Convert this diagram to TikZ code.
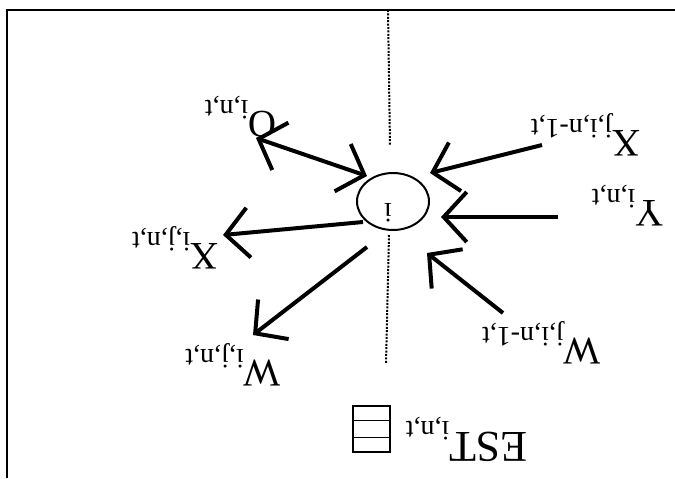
\documentclass[tikz,border=0pt]{standalone}
\usepackage{fontspec}
\setmainfont{Liberation Serif}
\usetikzlibrary{arrows.meta,shapes.geometric}
\newcommand{\lblx}[3][19.5pt]{{\fontsize{#1}{#1}\selectfont #2}\raisebox{-5.5pt}{\fontsize{14pt}{14pt}\selectfont #3}}
\tikzset{
  arr/.style={line width=2pt,-{Straight Barb[length=11.5pt,width=25pt]}},
  darr/.style={line width=2pt,{Straight Barb[length=11.5pt,width=25pt]}-{Straight Barb[length=11.5pt,width=25pt]}},
  lab/.style={rotate=180,anchor=base west,inner sep=0pt},
  dotline/.style={line width=1pt,dash pattern=on 1pt off 0.7pt},
  frame/.style={line width=1pt}
}
\begin{document}
\begin{tikzpicture}[x=0.5pt,y=-0.5pt]
\useasboundingbox (0,0) rectangle (675,478);
% frame
\coordinate (fTL) at (7,9.5);
\coordinate (fTR) at (675,9.5);
\coordinate (fBL) at (7,478);
\draw[frame] (fTR) -- (fTL) -- (fBL);
% dotted axis
\coordinate (d1) at (388,10);
\coordinate (d2) at (390,145);
\coordinate (d3) at (389,235);
\coordinate (d4) at (386,364);
\draw[dotline] (d1) -- (d2);
\draw[dotline] (d3) -- (d4);
% central node
\node[ellipse,draw,line width=1pt,minimum width=36pt,minimum height=28.5pt,inner sep=0pt] (c) at (393,201.5) {};
\node[rotate=180,inner sep=0pt,font=\fontsize{14pt}{14pt}\selectfont] (ci) at (388,212.5) {i};
% labels
\node[lab] (lO) at (277,111) {\lblx{O}{i,n,t}};
\node[lab] (lXj) at (641,130) {\lblx{X}{j,i,n-1,t}};
\node[lab] (lY) at (664,200) {\lblx{Y}{i,n,t}};
\node[lab] (lXij) at (219,243) {\lblx{X}{i,j,n,t}};
\node[lab] (lWij) at (281,360) {\lblx{W}{i,j,n,t}};
\node[lab] (lWj) at (601,338) {\lblx{W}{j,i,n-1,t}};
\node[lab] (lEST) at (528,432) {\lblx[22pt]{EST}{i,n,t}};
% storage box
\node[draw,line width=0.8pt,minimum width=18.5pt,minimum height=23pt,inner sep=0pt] (box) at (371.5,429) {};
\draw[line width=0.8pt] ([yshift=-7.7pt]box.north west) -- ([yshift=-7.7pt]box.north east);
\draw[line width=0.8pt] ([yshift=7.7pt]box.south west) -- ([yshift=7.7pt]box.south east);
% arrow end points
\coordinate (oA) at (256,138);
\coordinate (oB) at (367,176);
\coordinate (xjT) at (542,145);
\coordinate (xjH) at (430,173);
\coordinate (yT) at (558,217);
\coordinate (yH) at (441,217);
\coordinate (wjT) at (503,313);
\coordinate (wjH) at (427,253);
\coordinate (xiT) at (363,222);
\coordinate (xiH) at (223,235);
\coordinate (wiT) at (367,247);
\coordinate (wiH) at (253,335);
\draw[darr] (oA) -- (oB);
\draw[arr] (xjT) -- (xjH);
\draw[arr] (yT) -- (yH);
\draw[arr] (wjT) -- (wjH);
\draw[arr] (xiT) -- (xiH);
\draw[arr] (wiT) -- (wiH);
\end{tikzpicture}
\end{document}
